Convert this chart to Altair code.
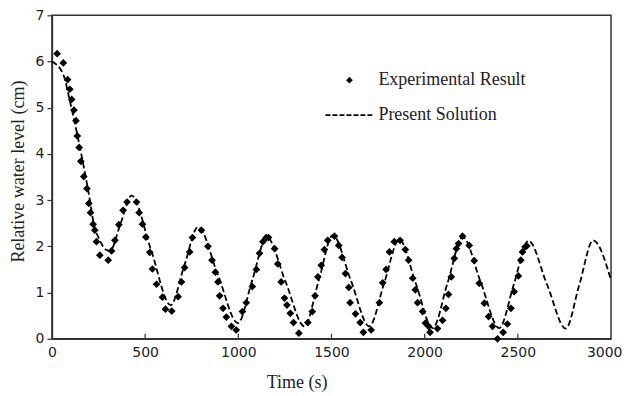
import altair as alt
import pandas as pd

# Experimental result (time in s, relative water level in cm)
exp_t = [28, 61, 84, 96, 106, 118, 129, 136, 146, 155, 171, 188, 198, 207, 221, 230, 239, 257,
         302, 320, 338, 359, 382, 403, 454, 468, 486, 504, 525, 539, 561, 593, 609, 643,
         677, 695, 712, 739, 754, 802, 837, 859, 877, 891, 900, 918, 936, 963, 989,
         1022, 1043, 1075, 1097, 1114, 1132, 1150, 1162, 1195, 1212, 1230, 1248, 1261, 1279, 1296, 1325,
         1373, 1397, 1412, 1427, 1445, 1462, 1480, 1516, 1539, 1557, 1575, 1593, 1600, 1629, 1654, 1671,
         1713, 1757, 1775, 1793, 1811, 1837, 1868, 1896, 1914, 1936, 1950, 1962, 1989, 2004, 2021, 2029,
         2069, 2096, 2114, 2128, 2143, 2159, 2170, 2182, 2203, 2239, 2266, 2293, 2320, 2343, 2364, 2391,
         2421, 2444, 2463, 2480, 2503, 2516, 2525, 2539, 2548]
exp_v = [6.17, 5.97, 5.61, 5.40, 5.18, 4.95, 4.72, 4.39, 4.14, 3.84, 3.51, 3.25, 2.93, 2.73, 2.48, 2.35, 2.10, 1.81,
         1.70, 1.90, 2.13, 2.47, 2.78, 2.96, 2.96, 2.73, 2.48, 2.20, 1.87, 1.51, 1.18, 0.90, 0.64, 0.60,
         0.91, 1.23, 1.54, 1.88, 2.19, 2.35, 2.00, 1.70, 1.44, 1.23, 0.93, 0.66, 0.47, 0.27, 0.19,
         0.59, 0.78, 1.13, 1.50, 1.85, 2.10, 2.19, 2.19, 1.95, 1.62, 1.23, 0.88, 0.73, 0.55, 0.35, 0.12,
         0.35, 0.59, 0.93, 1.34, 1.59, 1.93, 2.13, 2.22, 2.02, 1.76, 1.41, 1.11, 0.78, 0.54, 0.35, 0.14,
         0.19, 0.78, 1.21, 1.50, 1.88, 2.10, 2.13, 1.93, 1.70, 1.31, 1.06, 0.78, 0.59, 0.34, 0.27, 0.14,
         0.22, 0.40, 0.66, 0.96, 1.34, 1.74, 1.95, 2.06, 2.22, 2.02, 1.69, 1.20, 0.77, 0.48, 0.27, 0.00,
         0.14, 0.32, 0.66, 1.02, 1.36, 1.70, 1.88, 1.99, 2.01]

# Present solution (dashed curve)
sol_t = [0, 61, 96, 132, 168, 204, 221, 257, 293, 311, 369, 427, 532, 637, 710, 784, 891, 998,
         1075, 1153, 1254, 1355, 1431, 1507, 1605, 1703, 1783, 1864, 1953, 2043, 2123, 2204,
         2302, 2400, 2478, 2557, 2657, 2757, 2830, 2904, 3000]
sol_v = [6.00, 5.72, 5.15, 4.50, 3.78, 2.99, 2.56, 2.13, 1.92, 1.90, 2.50, 3.10, 1.92, 0.73, 1.58, 2.42, 1.38, 0.34,
         1.27, 2.20, 1.23, 0.27, 1.25, 2.24, 1.25, 0.27, 1.21, 2.15, 1.19, 0.23, 1.21, 2.20,
         1.21, 0.23, 1.17, 2.12, 1.17, 0.22, 1.17, 2.13, 1.27]

x_ticks = [500, 1000, 1500, 2000, 2500]
legend_labels = ["Experimental Result", "Present Solution"]

exp_df = pd.DataFrame({"t": exp_t, "v": exp_v})
sol_df = pd.DataFrame({"t": sol_t, "v": sol_v})
tick_df = pd.DataFrame({"t": x_ticks})

W, H = 560, 324
SERIF = "Liberation Serif"
SANS = "DejaVu Sans"

xscale = alt.Scale(domain=[0, 3000], nice=False, zero=False)
yscale = alt.Scale(domain=[0, 7], nice=False)

xaxis = alt.Axis(values=[0, 500, 1000, 1500, 2000, 2500, 3000], format="d", labelFlush=False,
                 labelAlign=alt.ExprRef(expr="datum.value == 3000 ? 'right' : 'center'"),
                 labelOffset=alt.ExprRef(expr="datum.value == 3000 ? 11 : 0"),
                 ticks=False, grid=False,
                 labelFont=SANS, labelFontSize=14, labelColor="#222", labelPadding=7,
                 domainColor="#333", domainWidth=1.5,
                 title="Time (s)", titleFont=SERIF, titleFontSize=18, titleFontWeight="normal",
                 titleColor="#222", titleX=245, titleY=44, titleBaseline="middle", titleAlign="center")
yaxis = alt.Axis(values=[0, 1, 2, 3, 4, 5, 6, 7], format="d", labelFlush=False,
                 tickSize=5, tickColor="#333", tickWidth=1.2, grid=False,
                 labelFont=SANS, labelFontSize=14, labelColor="#222", labelPadding=3,
                 domainColor="#333", domainWidth=1.5,
                 title="Relative water level (cm)", titleFont=SERIF, titleFontSize=18,
                 titleFontWeight="normal", titleColor="#222", titleX=-33, titleY=156,
                 titleBaseline="middle", titleAlign="center", titleAngle=270)

line = alt.Chart(sol_df).mark_line(color="black", strokeWidth=1.8, strokeDash=[6, 3],
                                   interpolate="monotone").encode(
    x=alt.X("t:Q", scale=xscale, axis=xaxis),
    y=alt.Y("v:Q", scale=yscale, axis=yaxis),
)

pts = alt.Chart(exp_df).mark_point(shape="diamond", filled=True, color="black", size=60,
                                   opacity=1).encode(
    x=alt.X("t:Q", scale=xscale),
    y=alt.Y("v:Q", scale=yscale),
)

ticks = alt.Chart(tick_df).mark_rule(color="#333", strokeWidth=1.2).encode(
    x=alt.X("t:Q", scale=xscale),
    y=alt.value(H),
    y2=alt.value(H - 5),
)

leg_pt = alt.Chart(pd.DataFrame({"l": [legend_labels[0]]})).mark_point(
    shape="diamond", filled=True, color="black", size=45, opacity=1).encode(
    x=alt.value(298), y=alt.value(65))
leg_line = alt.Chart(pd.DataFrame({"l": [legend_labels[1]]})).mark_rule(
    color="black", strokeWidth=1.6, strokeDash=[5, 2]).encode(
    x=alt.value(274), x2=alt.value(323), y=alt.value(100))
leg_txt = alt.Chart(pd.DataFrame({"l": legend_labels, "yy": [65, 100]})).mark_text(
    align="left", baseline="middle", font=SERIF, fontSize=18, color="#222").encode(
    x=alt.value(327), y=alt.Y("yy:Q", scale=None), text="l:N")

chart = alt.layer(line, pts, ticks, leg_pt, leg_line, leg_txt).properties(
    width=W, height=H,
    autosize=alt.AutoSizeParams(type="none"),
    padding={"left": 44, "top": 7, "right": 12, "bottom": 62},
    background="white",
).configure_view(stroke="#333", strokeWidth=1.5)

chart.save("out.html", embed_options={"renderer": "svg", "actions": False})
